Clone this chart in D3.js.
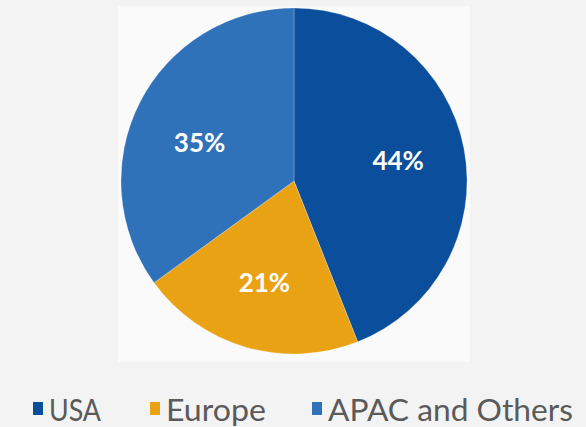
<!DOCTYPE html>
<html>
<head>
<meta charset="utf-8">
<script src="https://cdn.jsdelivr.net/npm/d3@7"></script>
<style>
html,body{margin:0;padding:0;background:#f3f3f3;}
svg{display:block;}
</style>
</head>
<body>
<svg id="chart" width="586" height="427"></svg>
<script>
const categories = ["USA", "Europe", "APAC and Others"];
const values = [44, 21, 35];
const labels = ["44%", "21%", "35%"];
const colors = ["#0b4f9c", "#e9a214", "#2f72ba"];

const W = 586, H = 427;
const cx = 294, cy = 181, R = 173;
const svg = d3.select("#chart");

// background panel
svg.append("rect").attr("x", 0).attr("y", 0).attr("width", W).attr("height", H).attr("fill", "#f3f3f3");
svg.append("rect").attr("x", 118).attr("y", 6).attr("width", 352).attr("height", 356).attr("fill", "#fafafa");

const data = categories.map((c, i) => ({cat: c, value: values[i], label: labels[i], color: colors[i]}));
const pie = d3.pie().sort(null).value(d => d.value).startAngle(0).endAngle(2 * Math.PI);
const arcs = pie(data);
const arc = d3.arc().innerRadius(0).outerRadius(R);
const labelArc = d3.arc().innerRadius(106).outerRadius(106);
const labelDy = [0, 0, 10];

const g = svg.append("g").attr("transform", `translate(${cx},${cy})`);
g.selectAll("path.slice").data(arcs).enter().append("path")
  .attr("class", "slice")
  .attr("d", arc)
  .attr("fill", d => d.data.color)
  .attr("stroke", "rgba(255,255,255,0.3)")
  .attr("stroke-width", 0.8);

g.selectAll("text.lbl").data(arcs).enter().append("text")
  .attr("class", "lbl")
  .attr("transform", (d, i) => { const c = labelArc.centroid(d); return `translate(${c[0]},${c[1] + labelDy[i]})`; })
  .attr("text-anchor", "middle")
  .attr("dy", "0.35em")
  .attr("fill", "#ffffff")
  .attr("font-family", "Lato, 'Open Sans', sans-serif")
  .attr("font-weight", "bold")
  .attr("font-size", 26)
  .text(d => d.data.label);

// legend
const legendX = [33, 150, 312];
const legendW = [52, 100, 245];
const lg = svg.append("g");
data.forEach((d, i) => {
  lg.append("rect").attr("x", legendX[i]).attr("y", 402).attr("width", 10).attr("height", 13).attr("fill", d.color);
  lg.append("text")
    .attr("x", legendX[i] + 16).attr("y", 421)
    .attr("fill", "#5a5a5a")
    .attr("font-family", "Lato, 'Open Sans', sans-serif")
    .attr("font-size", 30)
    .attr("textLength", legendW[i])
    .attr("lengthAdjust", "spacingAndGlyphs")
    .text(d.cat);
});
</script>
</body>
</html>
